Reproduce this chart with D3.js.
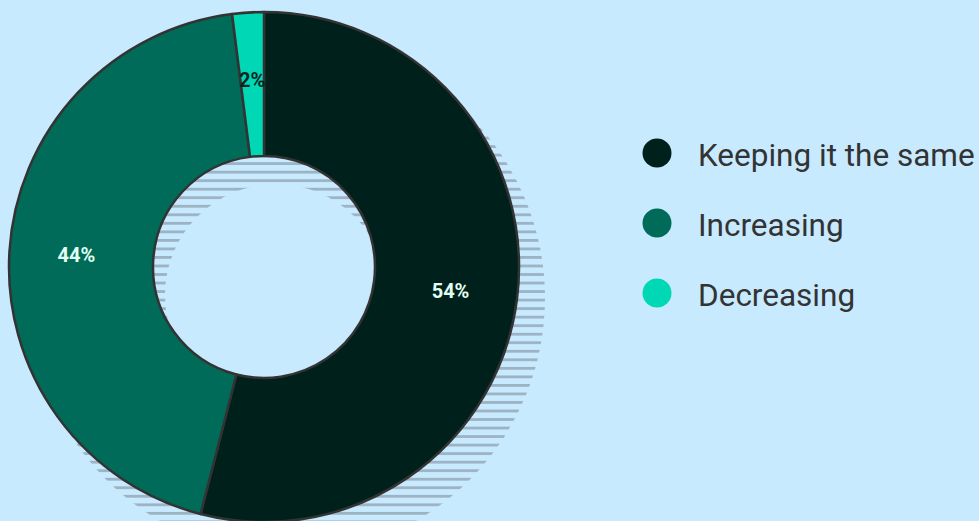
<!DOCTYPE html>
<html>
<head>
<meta charset="utf-8">
<script src="https://cdn.jsdelivr.net/npm/d3@7"></script>
<style>
  html, body { margin: 0; padding: 0; background: #c8eafe; overflow: hidden; }
  svg { display: block; }
</style>
</head>
<body>
<svg id="chart" width="979" height="521"></svg>
<script>
// Survey answer shares
const categories = ["Keeping it the same", "Increasing", "Decreasing"];
const shares = [54, 44, 2];
const shareLabels = ["54%", "44%", "2%"];
const sliceColors = ["#00201b", "#006b58", "#00d8b5"];
const labelColors = ["#e0fff3", "#e0fff3", "#06241f"];

const W = 979, H = 521;
const cx = 264, cy = 267;
const outerR = 255, innerR = 111;

const svg = d3.select("#chart").attr("viewBox", `0 0 ${W} ${H}`);

svg.append("rect").attr("width", W).attr("height", H).attr("fill", "#c8eafe");

// Horizontal hatching used for the drop shadow
const defs = svg.append("defs");
const hatch = defs.append("pattern")
  .attr("id", "hatch")
  .attr("patternUnits", "userSpaceOnUse")
  .attr("x", 0).attr("y", 162.2)
  .attr("width", 20).attr("height", 8.53);
hatch.append("rect")
  .attr("x", 0).attr("y", 0)
  .attr("width", 20).attr("height", 2.8)
  .attr("fill", "#9db3c4");

// Hatched ring offset behind the donut
const shadow = d3.path();
shadow.moveTo(288 + 257, 298);
shadow.arc(288, 298, 257, 0, 2 * Math.PI);
shadow.moveTo(276 + 111, 295);
shadow.arc(276, 295, 111, 0, 2 * Math.PI);
shadow.closePath();
svg.append("path")
  .attr("d", shadow.toString())
  .attr("fill", "url(#hatch)")
  .attr("fill-rule", "evenodd");

// Donut
const pie = d3.pie().sort(null).value(d => d);
const arcs = pie(shares);
const arc = d3.arc().innerRadius(innerR).outerRadius(outerR);
const labelArc = d3.arc().innerRadius(188).outerRadius(188);

const g = svg.append("g").attr("transform", `translate(${cx},${cy})`);

g.selectAll("path.slice")
  .data(arcs)
  .join("path")
  .attr("class", "slice")
  .attr("d", arc)
  .attr("fill", (d, i) => sliceColors[i])
  .attr("stroke", "#333333")
  .attr("stroke-width", 2.5)
  .attr("stroke-linejoin", "round");

g.selectAll("text.value")
  .data(arcs)
  .join("text")
  .attr("class", "value")
  .attr("transform", d => `translate(${labelArc.centroid(d)})`)
  .attr("text-anchor", "middle")
  .attr("dy", "0.36em")
  .attr("font-family", "Roboto, 'Noto Sans', sans-serif")
  .attr("font-weight", 700)
  .attr("font-size", 20)
  .attr("fill", (d, i) => labelColors[i])
  .text((d, i) => shareLabels[i]);

// Legend
const legend = svg.append("g").attr("transform", "translate(657,153)");
const rows = legend.selectAll("g.row")
  .data(categories)
  .join("g")
  .attr("class", "row")
  .attr("transform", (d, i) => `translate(0,${i * 70})`);

rows.append("circle")
  .attr("r", 14.5)
  .attr("fill", (d, i) => sliceColors[i]);

rows.append("text")
  .attr("x", 41)
  .attr("y", 13)
  .attr("font-family", "Roboto, 'Noto Sans', sans-serif")
  .attr("font-size", 31.5)
  .attr("fill", "#333333")
  .text(d => d);
</script>
</body>
</html>
